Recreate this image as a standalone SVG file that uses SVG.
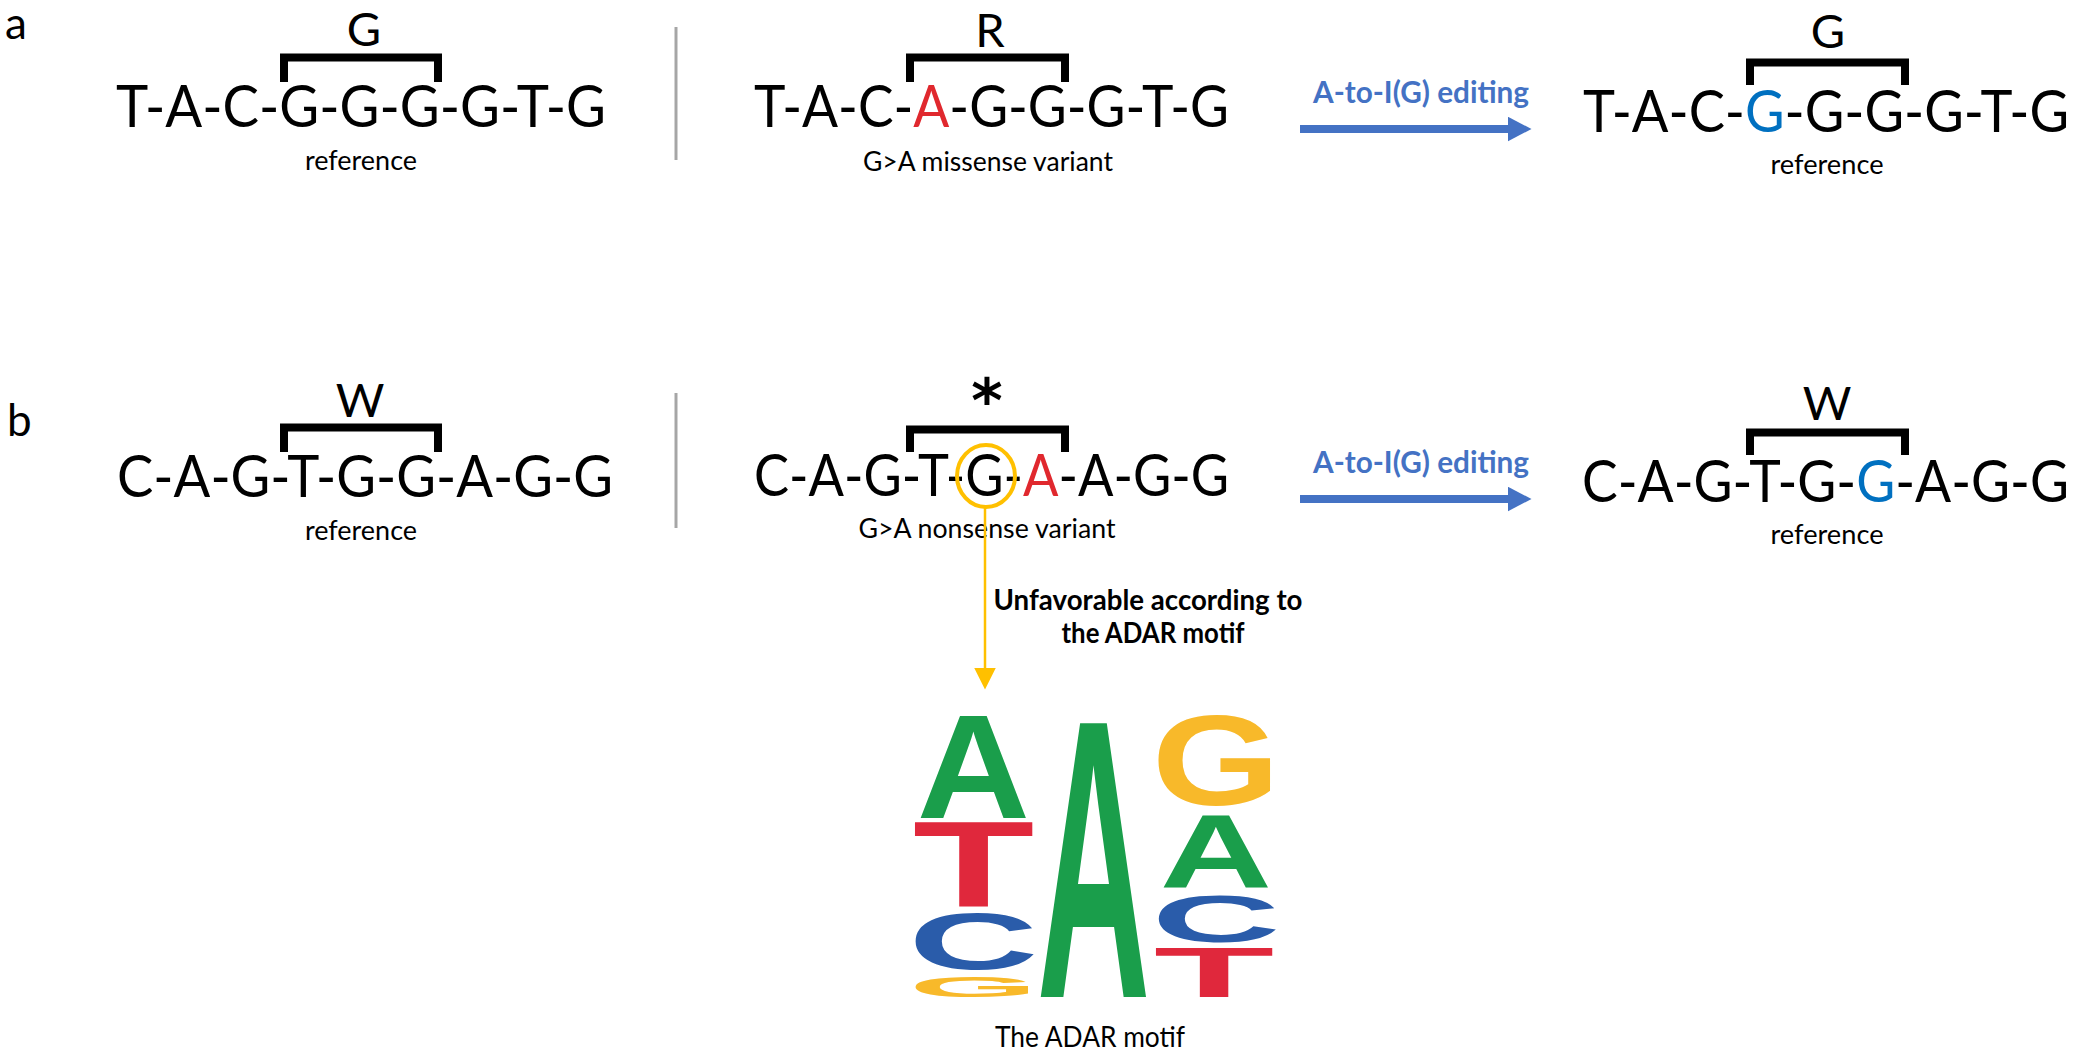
<svg xmlns="http://www.w3.org/2000/svg" width="2075" height="1052" viewBox="0 0 2075 1052">
  <defs>
    <style>
      .panel { font-family: Lato, "Open Sans", "Liberation Sans", sans-serif; font-size: 44px; fill: #000; }
      .seq { font-family: Lato, "Open Sans", "Liberation Sans", sans-serif; font-size: 59px; fill: #000; }
      .aa { font-family: Lato, "Open Sans", "Liberation Sans", sans-serif; font-size: 47px; fill: #000; text-anchor: middle; }
      .star { font-family: "DejaVu Sans", sans-serif; font-size: 60px; font-weight: bold; fill: #000; text-anchor: middle; }
      .cap { font-family: Lato, "Open Sans", "Liberation Sans", sans-serif; font-size: 27px; fill: #000; text-anchor: middle; }
      .edit { font-family: Lato, "Open Sans", "Liberation Sans", sans-serif; font-size: 31px; font-weight: bold; fill: #4472c4; }
      .note { font-family: Lato, "Open Sans", "Liberation Sans", sans-serif; font-size: 29px; font-weight: bold; fill: #000; text-anchor: middle; }
      .red { fill: #e0282e; }
      .blue { fill: #0070c0; }
      .bracket { fill: none; stroke: #000; stroke-width: 8; stroke-linejoin: miter; stroke-linecap: butt; }
      .divider { stroke: #a6a6a6; stroke-width: 3; }
      .edit-arrow { stroke: #4472c4; stroke-width: 8; fill: none; }
      .motif-arrow { stroke: #ffc000; stroke-width: 2.5; fill: none; }
      .logo { font-family: "Liberation Sans", Arial, sans-serif; font-weight: bold; font-size: 100px; text-anchor: middle; }
      .lgA { fill: #1a9e4b; }
      .lgT { fill: #e0283c; }
      .lgC { fill: #2a5caa; }
      .lgG { fill: #f8b92a; }
    </style>
    <marker id="blueHead" markerUnits="userSpaceOnUse" markerWidth="25" markerHeight="26" refX="0.5" refY="12.5" orient="auto">
      <path d="M0,0 L24,12.5 L0,25 Z" fill="#4472c4"/>
    </marker>
    <marker id="yellowHead" markerUnits="userSpaceOnUse" markerWidth="23" markerHeight="23" refX="0.5" refY="11" orient="auto">
      <path d="M0,0 L22,11 L0,22 Z" fill="#ffc000"/>
    </marker>
  </defs>

  <rect x="0" y="0" width="2075" height="1052" fill="#fff"/>

  <g id="panel-labels">
    <text class="panel" x="5" y="39">a</text>
    <text class="panel" x="7" y="436">b</text>
  </g>

  <g id="dividers">
    <line class="divider" x1="676" y1="27" x2="676" y2="160"/>
    <line class="divider" x1="676" y1="393" x2="676" y2="528"/>
  </g>

  <!-- Row a -->
  <g id="a-reference">
    <text class="aa" x="364" y="46">G</text>
    <path class="bracket" d="M284,82 V57.5 H438 V82"/>
    <text class="seq" x="116" y="127" textLength="490" lengthAdjust="spacingAndGlyphs">T-A-C-G-G-G-G-T-G</text>
    <text class="cap" x="361" y="170" textLength="112" lengthAdjust="spacingAndGlyphs">reference</text>
  </g>

  <g id="a-missense">
    <text class="aa" x="990" y="47">R</text>
    <path class="bracket" d="M910,82 V57.5 H1065 V82"/>
    <text class="seq" x="754" y="127" textLength="475" lengthAdjust="spacingAndGlyphs">T-A-C-<tspan class="red">A</tspan>-G-G-G-T-G</text>
    <text class="cap" x="988" y="171" textLength="250" lengthAdjust="spacingAndGlyphs">G&gt;A missense variant</text>
  </g>

  <g id="a-edited">
    <text class="aa" x="1828" y="48">G</text>
    <path class="bracket" d="M1750,85 V62.5 H1905 V85"/>
    <text class="seq" x="1583" y="132" textLength="486" lengthAdjust="spacingAndGlyphs">T-A-C-<tspan class="blue">G</tspan>-G-G-G-T-G</text>
    <text class="cap" x="1827" y="174" textLength="113" lengthAdjust="spacingAndGlyphs">reference</text>
  </g>

  <!-- Row b -->
  <g id="b-reference">
    <text class="aa" x="360" y="417">W</text>
    <path class="bracket" d="M284,452 V427.5 H438 V452"/>
    <text class="seq" x="117" y="497" textLength="496" lengthAdjust="spacingAndGlyphs">C-A-G-T-G-G-A-G-G</text>
    <text class="cap" x="361" y="540" textLength="112" lengthAdjust="spacingAndGlyphs">reference</text>
  </g>

  <g id="b-nonsense">
    <text class="star" x="987" y="422">*</text>
    <path class="bracket" d="M910,452 V429.5 H1065 V452"/>
    <text class="seq" x="754" y="496" textLength="475" lengthAdjust="spacingAndGlyphs">C-A-G-T-G-<tspan class="red">A</tspan>-A-G-G</text>
    <ellipse cx="986" cy="476" rx="29" ry="31" fill="none" stroke="#ffc000" stroke-width="4"/>
    <text class="cap" x="987" y="538" textLength="257" lengthAdjust="spacingAndGlyphs">G&gt;A nonsense variant</text>
  </g>

  <g id="b-edited">
    <text class="aa" x="1827" y="420">W</text>
    <path class="bracket" d="M1750,455 V432.5 H1905 V455"/>
    <text class="seq" x="1582" y="502" textLength="487" lengthAdjust="spacingAndGlyphs">C-A-G-T-G-<tspan class="blue">G</tspan>-A-G-G</text>
    <text class="cap" x="1827" y="544" textLength="113" lengthAdjust="spacingAndGlyphs">reference</text>
  </g>

  <!-- Connectors -->
  <g id="connectors">
    <line class="edit-arrow" x1="1300" y1="129" x2="1508" y2="129" marker-end="url(#blueHead)"/>
    <text class="edit" x="1313" y="103" textLength="216" lengthAdjust="spacingAndGlyphs">A-to-I(G) editing</text>
    <line class="edit-arrow" x1="1300" y1="499" x2="1508" y2="499" marker-end="url(#blueHead)"/>
    <text class="edit" x="1313" y="473" textLength="216" lengthAdjust="spacingAndGlyphs">A-to-I(G) editing</text>
    <line class="motif-arrow" x1="985" y1="507" x2="985" y2="668" marker-end="url(#yellowHead)"/>
    <text class="note" x="1148" y="610" textLength="309" lengthAdjust="spacingAndGlyphs">Unfavorable according to</text>
    <text class="note" x="1153" y="643" textLength="183" lengthAdjust="spacingAndGlyphs">the ADAR motif</text>
  </g>

  <!-- ADAR motif logo -->
  <g id="adar-motif">
    <text class="logo lgA" transform="translate(973.5,818) scale(1.569,1.480)">A</text>
    <text class="logo lgT" transform="translate(973.5,907) scale(1.993,1.215)">T</text>
    <text class="logo lgC" transform="translate(973.5,968.9) scale(1.805,0.806)">C</text>
    <text class="logo lgG" transform="translate(973.5,996.6) scale(1.667,0.296)">G</text>
    <text class="logo lgA" transform="translate(1093.5,997) scale(1.569,3.98)">A</text>
    <text class="logo lgG" transform="translate(1216,805.2) scale(1.652,1.277)">G</text>
    <text class="logo lgA" transform="translate(1216,887) scale(1.556,1.047)">A</text>
    <text class="logo lgC" transform="translate(1216,942.1) scale(1.789,0.672)">C</text>
    <text class="logo lgT" transform="translate(1214,997) scale(1.975,0.698)">T</text>
    <text class="cap" x="1090" y="1047" textLength="190" lengthAdjust="spacingAndGlyphs" style="font-size:29px">The ADAR motif</text>
  </g>
</svg>
